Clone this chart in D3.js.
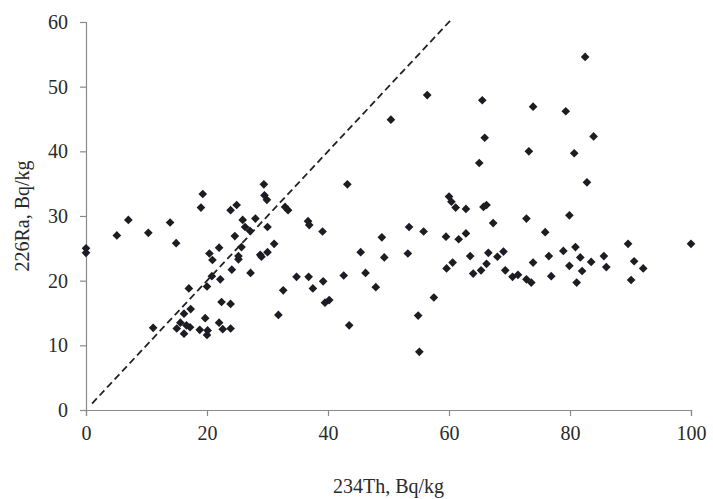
<!DOCTYPE html>
<html>
<head>
<meta charset="utf-8">
<script src="https://cdn.jsdelivr.net/npm/d3@7"></script>
<style>
  html, body { margin: 0; padding: 0; background: #fff; }
  svg { display: block; }
  text { font-family: "Liberation Serif", "DejaVu Serif", serif; fill: #2a2a2a; }
</style>
</head>
<body>
<svg id="chart" width="713" height="499"></svg>
<script>
// 234Th values (x), Bq/kg
const thValues = [
  0, 0, 5.1, 7.0, 10.3, 13.9, 14.9, 11.1, 19.3, 19.0, 17.0, 15.0, 16.2, 17.2, 16.2, 17.3, 15.6, 16.6,
  18.8, 20.0, 19.7, 20.1, 20.0, 20.4, 20.9, 20.8, 22.0, 22.2, 22.4, 23.9, 22.0, 22.6, 23.9, 24.1,
  23.9, 24.9, 24.6, 25.2, 25.2, 25.7, 25.9, 26.3, 27.1, 27.2, 28.0, 29.4, 29.5, 29.9, 30.0, 28.8,
  29.0, 30.0, 31.1, 31.8,
  56.4, 65.5, 50.4, 65.9, 65.0, 43.2, 32.9, 33.4, 60.0, 60.4, 61.1, 62.8, 65.7, 66.2, 36.7, 36.9,
  39.1, 53.4, 55.8, 48.9, 59.5, 61.6, 62.8, 45.4, 49.3, 53.2, 63.5, 66.5, 34.8, 36.8, 39.2, 37.5,
  42.6, 46.2, 47.9, 32.6, 39.5, 40.2, 43.5, 54.9, 55.1, 57.5, 59.6, 60.6, 64.0, 65.3, 66.2,
  73.9, 79.3, 83.9, 73.2, 80.7, 82.8, 67.3, 72.8, 79.9, 75.9, 68.0, 69.0, 69.3, 70.5, 71.4, 72.8,
  73.6, 73.9, 76.5, 76.9, 78.9, 80.9, 81.7, 79.9, 82.0, 81.1, 83.5, 85.6, 86.0, 89.6, 90.6, 92.1,
  90.1, 100, 82.5
];
// 226Ra values (y), Bq/kg
const raValues = [
  24.3, 25.0, 27.0, 29.4, 27.4, 29.0, 25.8, 12.7, 33.4, 31.3, 18.8, 12.6, 11.8, 12.8, 14.9, 15.6, 13.5, 13.1,
  12.4, 11.6, 14.2, 12.3, 19.1, 24.2, 23.2, 20.7, 25.1, 20.2, 16.7, 16.4, 13.5, 12.5, 12.6, 21.7,
  30.9, 31.7, 26.9, 23.8, 23.3, 25.2, 29.4, 28.3, 27.7, 21.2, 29.6, 34.9, 33.2, 32.5, 28.3, 24.0,
  23.7, 24.4, 25.7, 14.7,
  48.7, 47.9, 44.9, 42.1, 38.2, 34.9, 31.4, 30.9, 33.0, 32.2, 31.3, 31.1, 31.4, 31.7, 29.2, 28.6,
  27.6, 28.3, 27.6, 26.7, 26.8, 26.4, 27.3, 24.4, 23.6, 24.2, 23.8, 24.3, 20.6, 20.6, 19.9, 18.8,
  20.8, 21.2, 19.0, 18.5, 16.6, 17.0, 13.1, 14.6, 9.0, 17.4, 21.9, 22.8, 21.1, 21.6, 22.6,
  46.9, 46.2, 42.3, 40.0, 39.7, 35.2, 28.9, 29.6, 30.1, 27.5, 23.7, 24.5, 21.6, 20.6, 20.9, 20.2,
  19.7, 22.8, 23.8, 20.7, 24.6, 25.2, 23.6, 22.3, 21.5, 19.7, 22.9, 23.8, 22.1, 25.7, 23.0, 21.9,
  20.1, 25.7, 54.6
];
// 1:1 reference line endpoints (data units)
const refLine = [1, 60.5];
const xTicks = [0, 20, 40, 60, 80, 100];
const yTicks = [0, 10, 20, 30, 40, 50, 60];
const xTitle = "234Th, Bq/kg";
const yTitle = "226Ra, Bq/kg";

const svg = d3.select("#chart");
const x = d3.scaleLinear().domain([0, 100]).range([86, 691]);
const y = d3.scaleLinear().domain([0, 60]).range([410, 22]);

const axisColor = "#8a8a8a";

const gx = svg.append("g").attr("transform", `translate(0,${y(0)})`)
  .call(d3.axisBottom(x).tickValues(xTicks).tickSize(6).tickPadding(10).tickFormat(d3.format("d")));
const gy = svg.append("g").attr("transform", `translate(${x(0)},0)`)
  .call(d3.axisLeft(y).tickValues(yTicks).tickSize(6).tickPadding(12).tickFormat(d3.format("d")));

[gx, gy].forEach(g => {
  g.select(".domain").attr("stroke", axisColor).attr("stroke-width", 1.2);
  g.selectAll(".tick line").attr("stroke", axisColor).attr("stroke-width", 1.2);
  g.selectAll(".tick text").attr("font-size", 20).attr("fill", "#2a2a2a")
    .attr("font-family", '"Liberation Serif", serif');
});

// dashed 1:1 line
svg.append("line")
  .attr("x1", x(refLine[0])).attr("y1", y(refLine[0]))
  .attr("x2", x(refLine[1])).attr("y2", y(refLine[1]))
  .attr("stroke", "#222").attr("stroke-width", 1.8)
  .attr("stroke-dasharray", "7,4");

// points
const pts = thValues.map((v, i) => ({ th: v, ra: raValues[i] }));
svg.append("g").selectAll("path").data(pts).join("path")
  .attr("d", d3.symbol().type(d3.symbolDiamond2).size(48))
  .attr("transform", d => `translate(${x(d.th)},${y(d.ra)})`)
  .attr("fill", "#1c1c22");

// titles
svg.append("text").attr("x", (x(0) + x(100)) / 2).attr("y", 493)
  .attr("text-anchor", "middle").attr("font-size", 20).text(xTitle);
svg.append("text")
  .attr("transform", `translate(29,${(y(0) + y(60)) / 2}) rotate(-90)`)
  .attr("text-anchor", "middle").attr("font-size", 20).text(yTitle);
</script>
</body>
</html>
